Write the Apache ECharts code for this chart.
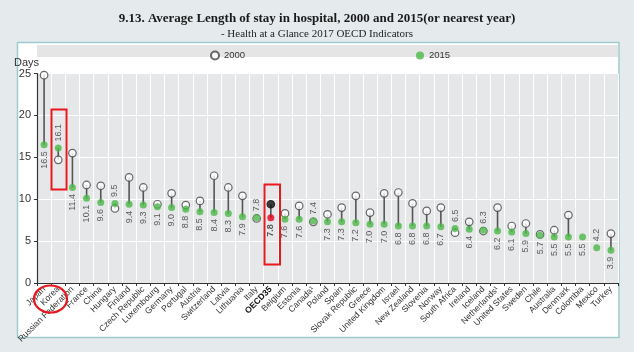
<!DOCTYPE html>
<html><head><meta charset="utf-8">
<script src="https://cdn.jsdelivr.net/npm/echarts@6/dist/echarts.min.js"></script>
<style>html,body{margin:0;padding:0;background:#e5eaed;}#c{width:634px;height:352px;}</style>
</head><body><div id="c"></div>
<script>
const countries = ['Japan','Korea','Russian Federation','France','China','Hungary','Finland','Czech Republic','Luxembourg','Germany','Portugal','Austria','Switzerland','Latvia','Lithuania','Italy','OECD35','Belgium','Estonia','Canada¹','Poland','Spain','Slovak Republic','Greece','United Kingdom','Israel','New Zealand','Slovenia','Norway','South Africa','Ireland','Iceland','Netherlands¹','United States','Sweden','Chile','Australia','Denmark','Colombia','Mexico','Turkey'];
const values2015 = [16.5,16.1,11.4,10.1,9.6,9.5,9.4,9.3,9.1,9.0,8.8,8.5,8.4,8.3,7.9,7.8,7.8,7.6,7.6,7.4,7.3,7.3,7.2,7.0,7.0,6.8,6.8,6.8,6.7,6.5,6.4,6.3,6.2,6.1,5.9,5.7,5.5,5.5,5.5,4.2,3.9];
const values2000 = [24.8,14.7,15.5,11.7,11.6,8.9,12.6,11.4,9.4,10.7,9.3,9.8,12.8,11.4,10.4,7.7,9.4,8.3,9.2,7.3,8.2,9.0,10.4,8.4,10.7,10.8,9.5,8.6,9.0,6.0,7.3,6.2,9.0,6.8,7.1,5.8,6.3,8.1,null,null,5.9];
const yTicks = [0,5,10,15,20,25];
const labelAboveWhenNoBase = ['Mexico'];

const GREEN = '#4cb847';
const narrow = "'Liberation Sans Narrow','Liberation Sans',Arial,sans-serif";

function isAbove(i){
  if (values2000[i] == null) return labelAboveWhenNoBase.indexOf(countries[i]) >= 0;
  return values2000[i] < values2015[i];
}

const data2015 = values2015.map((v,i)=>{
  const above = isAbove(i);
  const oecd = countries[i] === 'OECD35';
  return {
    value: v,
    itemStyle: oecd ? {color:'#e2001a'} : undefined,
    label: {
      show: true, formatter: v.toFixed(1), rotate: 90,
      position: above ? 'top' : 'bottom', distance: 3,
      align: above ? 'left' : 'right', verticalAlign: 'middle',
      fontWeight: oecd ? 'bold' : 'normal'
    }
  };
});
const data2000 = values2000.map((v,i)=>{
  if (v == null) return '-';
  if (countries[i] === 'OECD35') return {value:v, itemStyle:{color:'#111', borderColor:'#111'}};
  return v;
});

const chart = echarts.init(document.getElementById('c'), null, {renderer:'canvas'});
chart.setOption({
  backgroundColor: '#e5eaed',
  animation: false,
  title: {
    text: '9.13. Average Length of stay in hospital, 2000 and 2015(or nearest year)',
    subtext: '- Health at a Glance 2017 OECD Indicators',
    left: 'center', top: 7, itemGap: 4,
    textStyle: {fontFamily: "'Liberation Serif','DejaVu Serif',serif", fontWeight: 'bold', fontSize: 13, color: '#1a1a1a'},
    subtextStyle: {fontFamily: "'Liberation Serif','DejaVu Serif',serif", fontSize: 11, color: '#222'}
  },
  graphic: [
    {type:'rect', z:-10, shape:{x:17.5, y:42.5, width:601.5, height:295}, style:{fill:'#ffffff', stroke:'#9fcbd0', lineWidth:1.5}},
    {type:'rect', z:-9, shape:{x:37, y:45, width:581, height:12}, style:{fill:'#e5e5e5'}},
    {type:'rect', z:100, shape:{x:51.5, y:109.5, width:15, height:80}, style:{fill:'none', stroke:'#e8191e', lineWidth:2}},
    {type:'rect', z:100, shape:{x:264.5, y:184.5, width:15.5, height:80}, style:{fill:'none', stroke:'#e8191e', lineWidth:2}},
    {type:'ellipse', z:100, shape:{cx:50.5, cy:299, rx:16.5, ry:13.5}, style:{fill:'none', stroke:'#e8191e', lineWidth:2.2}}
  ],
  legend: [
    {data:['2000'], left:205, top:45.5, itemWidth:8, itemHeight:8, itemGap:4, textStyle:{fontSize:9.5, color:'#333', fontFamily:'Arial,Liberation Sans,sans-serif'}},
    {data:['2015'], left:411, top:45.5, itemWidth:8, itemHeight:8, itemGap:4, textStyle:{fontSize:9.5, color:'#333', fontFamily:'Arial,Liberation Sans,sans-serif'}}
  ],
  grid: {left:37, right:16, top:73.5, bottom:69, show:true, backgroundColor:'#e6e7e9', borderWidth:0},
  xAxis: {
    type:'category', data: countries, boundaryGap: true,
    axisLine:{lineStyle:{color:'#333', width:1.2}},
    axisTick:{show:true, length:3, lineStyle:{color:'#333'}},
    splitLine:{show:true, lineStyle:{color:'#ffffff', width:1}},
    axisLabel:{rotate:45, interval:0, fontSize:8.6, color:'#333', margin:5, fontFamily: narrow,
      formatter: v => v === 'OECD35' ? '{b|' + v + '}' : v,
      rich:{b:{fontWeight:'bold', fontSize:8.6, color:'#111', fontFamily: narrow}}}
  },
  yAxis: {
    type:'value', min:yTicks[0], max:yTicks[yTicks.length-1], interval:5,
    name:'Days', nameLocation:'end', nameGap:4,
    nameTextStyle:{align:'right', padding:[0,-2,0,0], fontSize:11, color:'#333', fontFamily: narrow},
    axisLine:{show:true, lineStyle:{color:'#333', width:1.2}},
    axisTick:{show:true, length:3, lineStyle:{color:'#333'}},
    splitLine:{show:true, lineStyle:{color:'#ffffff', width:1.2}},
    axisLabel:{fontSize:11, color:'#333', margin:6, fontFamily: narrow}
  },
  series: [
    {
      type:'custom', name:'range', silent:true, z:1,
      data: countries.map((c,i)=>[i, values2000[i], values2015[i]]),
      renderItem: function(params, api){
        const i = api.value(0);
        const a = values2000[i], b = values2015[i];
        if (a == null) return null;
        const p1 = api.coord([i, a]), p2 = api.coord([i, b]);
        return {type:'line', shape:{x1:p1[0], y1:p1[1], x2:p2[0], y2:p2[1]}, style:{stroke:'#555', lineWidth:1.6}};
      }
    },
    {
      type:'scatter', name:'2000', z:2, data: data2000, symbol:'circle', symbolSize:7.5,
      itemStyle:{color:'#ffffff', borderColor:'#444', borderWidth:1.2}
    },
    {
      type:'scatter', name:'2015', z:3, data: data2015, symbol:'circle', symbolSize:7,
      itemStyle:{color:GREEN},
      label:{fontSize:9, color:'#333', fontFamily: narrow}
    }
  ]
});
</script></body></html>
